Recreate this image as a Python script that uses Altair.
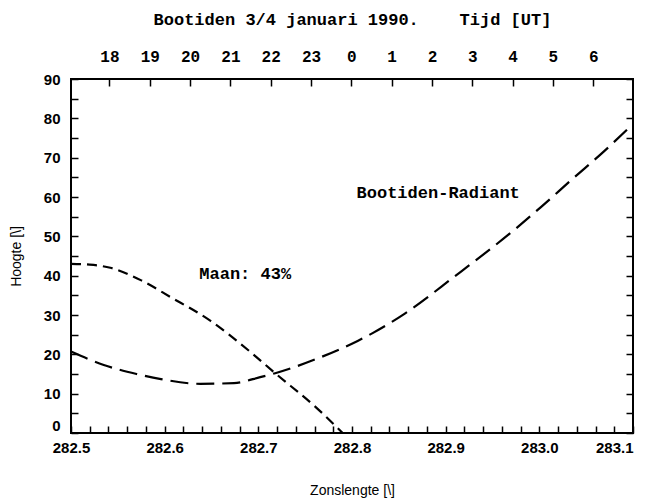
import altair as alt
import pandas as pd

# --- data ---
radiant_lon = [282.500, 282.535, 282.570, 282.596, 282.638, 282.674, 282.702, 282.718,
               282.767, 282.788, 282.806, 282.822, 282.856, 282.909, 282.973, 283.002,
               283.034, 283.069, 283.100]
radiant_alt = [20.7, 17.3, 15.0, 13.7, 12.5, 12.7, 14.2, 15.2,
               19.3, 21.4, 23.4, 25.4, 30.3, 39.7, 51.6, 57.5,
               64.3, 71.6, 78.6]

moon_lon = [282.500, 282.520, 282.542, 282.575, 282.606, 282.649, 282.689, 282.718, 282.763, 282.790]
moon_alt = [43.0, 42.8, 42.0, 38.8, 34.6, 28.5, 21.1, 15.2, 6.2, 0.0]

label_text = ["Bootiden-Radiant", "Maan: 43%"]
label_lon = [282.892, 282.686]
label_alt = [61.0, 40.4]

top_hours = [18, 19, 20, 21, 22, 23, 24, 25, 26, 27, 28, 29, 30]
x_ticks = [282.50, 282.52, 282.54, 282.56, 282.58, 282.60, 282.62, 282.64, 282.66, 282.68,
           282.70, 282.72, 282.74, 282.76, 282.78, 282.80, 282.82, 282.84, 282.86, 282.88,
           282.90, 282.92, 282.94, 282.96, 282.98, 283.00, 283.02, 283.04, 283.06, 283.08, 283.10]
y_ticks = [0, 5, 10, 15, 20, 25, 30, 35, 40, 45, 50, 55, 60, 65, 70, 75, 80, 85, 90]

radiant_df = pd.DataFrame({"lon": radiant_lon, "alt": radiant_alt})
moon_df = pd.DataFrame({"lon": moon_lon, "alt": moon_alt})
labels_df = pd.DataFrame({"lon": label_lon, "alt": label_alt, "text": label_text})
hours_df = pd.DataFrame({"hour": top_hours})

XDOM = [282.5, 283.1]
YDOM = [0, 90]
HDOM = [17.047, 30.987]

SANS = "Liberation Sans"
MONO = "Liberation Mono"
TICK_IN = {"expr": "-7"}

x_scale = alt.Scale(domain=XDOM, nice=False, zero=False)
y_scale = alt.Scale(domain=YDOM, nice=False)

radiant = alt.Chart(radiant_df).mark_line(
    color="black", strokeWidth=2.2, strokeDash=[18, 8], interpolate="monotone"
).encode(
    x=alt.X("lon:Q", scale=x_scale,
            axis=alt.Axis(orient="bottom", values=x_ticks, domain=False, grid=False,
                          tickSize=TICK_IN, tickWidth=1.5, tickColor="black",
                          labelExpr="abs(datum.value*10 - round(datum.value*10)) < 0.001 ? format(datum.value, '.1f') : ''",
                          labelAlign={"condition": {"test": "datum.value > 283.09", "value": "right"}, "value": "center"},
                          labelFont=SANS, labelFontWeight="bold", labelFontSize=15, labelColor="black",
                          labelPadding=14, labelOverlap=False,
                          title="Zonslengte [\\]", titleFont=SANS, titleFontWeight="normal",
                          titleFontSize=14, titleColor="black", titlePadding=28)),
    y=alt.Y("alt:Q", scale=y_scale,
            axis=alt.Axis(orient="left", values=y_ticks, domain=False, grid=False,
                          tickSize=TICK_IN, tickWidth=1.5, tickColor="black",
                          labelExpr="datum.value % 10 == 0 ? datum.value : ''",
                          labelBaseline={"condition": {"test": "datum.value == 0", "value": "bottom"}, "value": "middle"},
                          labelFont=SANS, labelFontWeight="bold", labelFontSize=15, labelColor="black",
                          labelPadding=18, labelOverlap=False,
                          title="Hoogte [\\]", titleFont=SANS, titleFontWeight="normal",
                          titleFontSize=14, titleColor="black", titlePadding=20)),
)

moon = alt.Chart(moon_df).mark_line(
    color="black", strokeWidth=2.2, strokeDash=[10, 6], interpolate="monotone"
).encode(
    x=alt.X("lon:Q", scale=x_scale, axis=None),
    y=alt.Y("alt:Q", scale=y_scale,
            axis=alt.Axis(orient="right", values=y_ticks, domain=False, labels=False, grid=False,
                          tickSize=TICK_IN, tickWidth=1.5, tickColor="black", title=None)),
)

hours = alt.Chart(hours_df).mark_point(opacity=0).encode(
    x=alt.X("hour:Q", scale=alt.Scale(domain=HDOM, nice=False, zero=False),
            axis=alt.Axis(orient="top", values=top_hours, domain=False, grid=False,
                          tickSize=TICK_IN, tickWidth=1.5, tickColor="black",
                          labelExpr="datum.value >= 24 ? datum.value - 24 : datum.value",
                          labelFont=MONO, labelFontSize=16, labelFontWeight="bold", labelColor="black",
                          labelPadding=22, labelOverlap=False,
                          title="Bootiden 3/4 januari 1990.\u00a0\u00a0\u00a0\u00a0Tijd [UT]",
                          titleFont=MONO, titleFontSize=17, titleFontWeight="bold",
                          titleColor="black", titlePadding=20)),
)

texts = alt.Chart(labels_df).mark_text(
    font=MONO, fontSize=17, fontWeight="bold", color="black", align="center", baseline="middle"
).encode(
    x=alt.X("lon:Q", scale=x_scale, axis=None),
    y=alt.Y("alt:Q", scale=y_scale, axis=None),
    text="text:N",
)

chart = alt.layer(radiant, moon, hours, texts).resolve_scale(
    x="independent"
).resolve_axis(
    y="independent"
).properties(
    width=562, height=354,
    autosize=alt.AutoSizeParams(type="none"),
    padding={"left": 63, "top": 71, "right": 10, "bottom": 66},
    background="white",
).configure_view(
    stroke="black", strokeWidth=2
).configure_axis(
    grid=False
)

chart.save("out.html", embed_options={"renderer": "svg", "actions": False})
